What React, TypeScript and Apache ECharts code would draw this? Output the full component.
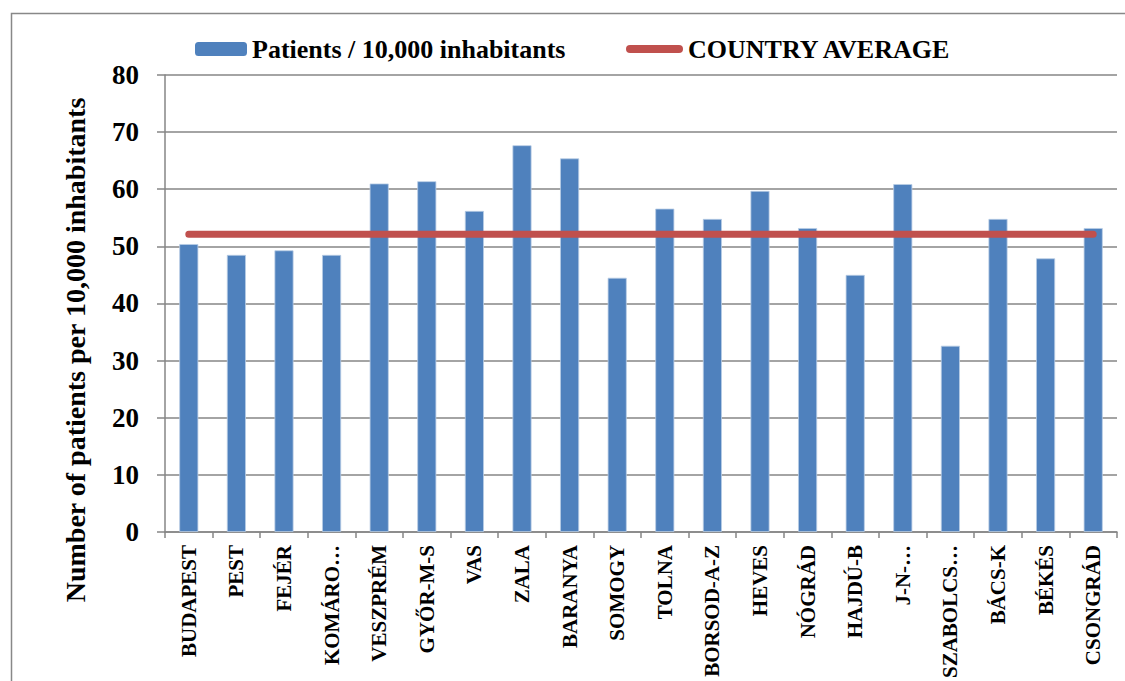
import React, { useEffect, useRef } from "react";
import * as echarts from "echarts";

const categories = [
  "BUDAPEST", "PEST", "FEJÉR", "KOMÁRO…", "VESZPRÉM", "GYŐR-M-S", "VAS", "ZALA", "BARANYA", "SOMOGY",
  "TOLNA", "BORSOD-A-Z", "HEVES", "NÓGRÁD", "HAJDÚ-B", "J-N-…", "SZABOLCS…", "BÁCS-K", "BÉKÉS", "CSONGRÁD",
];
const patientsPer10k = [
  50.4, 48.5, 49.3, 48.5, 61.0, 61.4, 56.2, 67.7, 65.4, 44.5,
  56.6, 54.8, 59.7, 53.2, 45.0, 60.9, 32.6, 54.8, 47.9, 53.2,
];
const countryAverage = [
  52.1, 52.1, 52.1, 52.1, 52.1, 52.1, 52.1, 52.1, 52.1, 52.1,
  52.1, 52.1, 52.1, 52.1, 52.1, 52.1, 52.1, 52.1, 52.1, 52.1,
];
const seriesNames = ["Patients / 10,000 inhabitants", "COUNTRY AVERAGE"];
const yAxisTitle = "Number of patients per 10,000 inhabitants";

const FONT = "Liberation Serif";

export default function App() {
  const ref = useRef<HTMLDivElement>(null);
  useEffect(() => {
    if (!ref.current) return;
    const chart = echarts.init(ref.current, undefined, { renderer: "svg" });
    chart.setOption({
      animation: false,
      backgroundColor: "#ffffff",
      textStyle: { fontFamily: FONT },
      grid: { left: 165, right: 8, top: 75, bottom: 149 },
      legend: [
        {
          data: [seriesNames[0]],
          left: 195,
          top: 36,
          padding: 0,
          itemWidth: 52,
          itemHeight: 14,
          itemStyle: { color: "#4F81BD", borderWidth: 0 },
          textStyle: { fontFamily: FONT, fontWeight: "bold", fontSize: 26, color: "#000" },
        },
        {
          data: [seriesNames[1]],
          left: 626,
          top: 36,
          padding: 0,
          itemWidth: 57,
          itemHeight: 8,
          icon: "path://M4,0 H53 A4,4 0 0 1 53,8 H4 A4,4 0 0 1 4,0 Z",
          itemStyle: { color: "#C0504D", borderWidth: 0 },
          lineStyle: { width: 0 },
          textStyle: { fontFamily: FONT, fontWeight: "bold", fontSize: 26, color: "#000" },
        },
      ],
      xAxis: {
        type: "category",
        data: categories,
        axisLine: { show: true, lineStyle: { color: "#868686", width: 1.5 } },
        axisTick: { show: true, length: 6, lineStyle: { color: "#868686", width: 1.5 } },
        axisLabel: {
          rotate: 90,
          interval: 0,
          margin: 13,
          fontFamily: FONT,
          fontWeight: "bold",
          fontSize: 21,
          color: "#000",
        },
        splitLine: { show: false },
      },
      yAxis: {
        type: "value",
        min: 0,
        max: 80,
        interval: 10,
        axisLine: { show: true, lineStyle: { color: "#868686", width: 1.5 } },
        axisTick: { show: true, length: 8, lineStyle: { color: "#868686", width: 1.5 } },
        axisLabel: {
          margin: 26,
          fontFamily: FONT,
          fontWeight: "bold",
          fontSize: 27,
          color: "#000",
        },
        splitLine: { show: true, lineStyle: { color: "#868686", width: 1.5 } },
      },
      series: [
        {
          name: seriesNames[0],
          type: "bar",
          data: patientsPer10k,
          barWidth: "40%",
          itemStyle: { color: "#4F81BD", borderColor: "#B9CDE5", borderWidth: 0.8 },
        },
        {
          name: seriesNames[1],
          type: "line",
          data: countryAverage,
          symbol: "none",
          lineStyle: { color: "#C0504D", width: 7, cap: "round" },
          itemStyle: { color: "#C0504D" },
          z: 5,
        },
      ],
      graphic: [
        {
          type: "rect",
          left: 9,
          top: 11,
          shape: { width: 1200, height: 720 },
          style: { fill: "none", stroke: "#888888", lineWidth: 1.5 },
          silent: true,
        },
        {
          type: "text",
          x: 75,
          y: 350,
          rotation: Math.PI / 2,
          style: {
            text: yAxisTitle,
            fontFamily: FONT,
            fontWeight: "bold",
            fontSize: 28,
            fill: "#000",
            textAlign: "center",
            textVerticalAlign: "middle",
          },
        },
      ],
    });
    return () => chart.dispose();
  }, []);
  return (
    <div
      ref={ref}
      style={{ position: "absolute", left: 0, top: 0, width: 1125, height: 681 }}
    />
  );
}
